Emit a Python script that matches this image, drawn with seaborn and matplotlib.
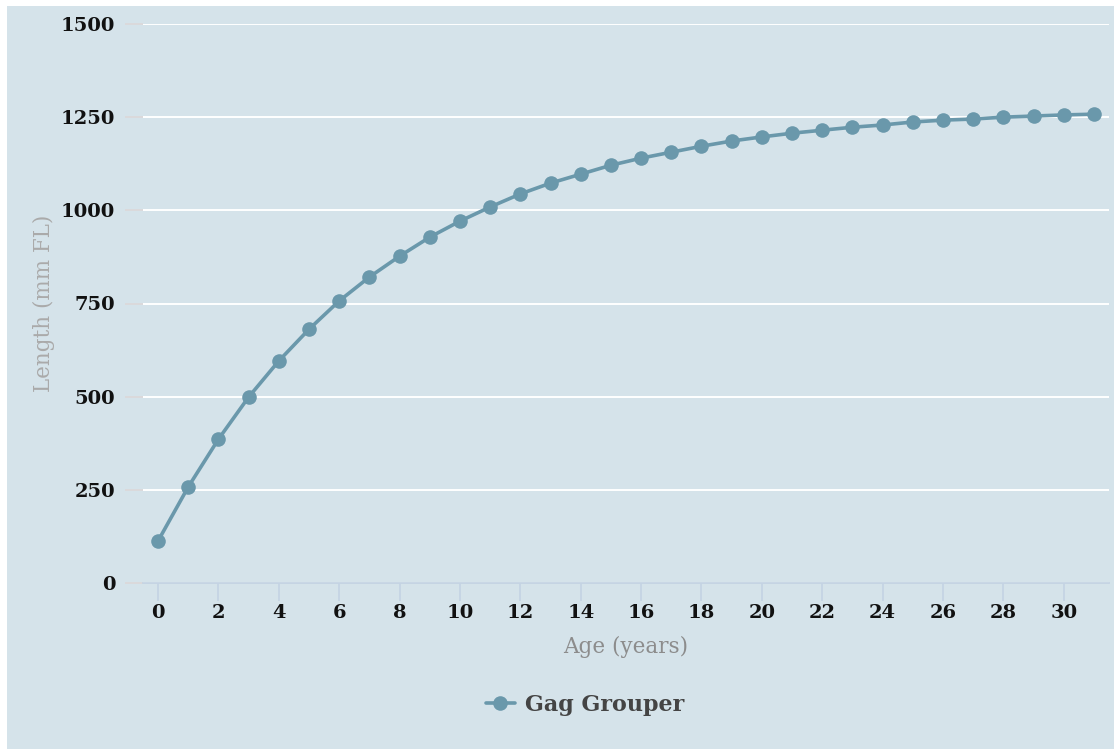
import matplotlib
matplotlib.use("Agg")
import matplotlib.pyplot as plt
from matplotlib.patches import Rectangle
from matplotlib.lines import Line2D
import seaborn as sns
import pandas as pd

ages = list(range(0, 32))
lengths = [113, 258, 386, 499, 596, 681, 757, 821, 877, 928, 971, 1009, 1044, 1073,
           1097, 1121, 1140, 1156, 1172, 1186, 1197, 1207, 1215, 1223, 1229, 1237,
           1242, 1245, 1250, 1253, 1256, 1258]
series_name = "Gag Grouper"
x_ticks = list(range(0, 31, 2))
y_ticks = [0, 250, 500, 750, 1000, 1250, 1500]

df = pd.DataFrame({"Age": ages, "Length": lengths, "Species": series_name})

sns.set_theme(style="white")
plt.rcParams['font.family'] = ['DejaVu Serif', 'DejaVu Sans']

W, H = 1114, 749
fig = plt.figure(figsize=(W / 100, H / 100), dpi=100, facecolor="white")
bg = "#d5e3ea"
fig.patches.append(Rectangle((7 / W, 0), 1 - 7 / W, 1 - 6 / H, transform=fig.transFigure,
                             facecolor=bg, edgecolor="none", zorder=-10))

left, right, top, bottom = 143, 1109, 24, 583
ax = fig.add_axes([left / W, 1 - bottom / H, (right - left) / W, (bottom - top) / H])
ax.set_facecolor("none")

line_color = "#6a98ab"
sns.lineplot(data=df, x="Age", y="Length", ax=ax, color=line_color, linewidth=2.6,
             marker="o", markersize=10.5, markeredgewidth=0, legend=False, zorder=3)

ax.set_xlim(-0.5, 31.5)
ax.set_ylim(0, 1500)
ax.set_xticks(x_ticks)
ax.set_yticks(y_ticks)
ax.set_xticklabels([str(t) for t in x_ticks], fontweight="bold", fontsize=14, color="#111111")
ax.set_yticklabels([str(t) for t in y_ticks], fontweight="bold", fontsize=14, color="#111111")

ax.yaxis.grid(True, color="white", linewidth=1.4)
ax.xaxis.grid(False)
ax.set_axisbelow(True)
for s in ["top", "right", "left"]:
    ax.spines[s].set_visible(False)
ax.spines["bottom"].set_color("#c4d3e3")
ax.spines["bottom"].set_linewidth(1.3)

ax.tick_params(axis="y", length=13, width=1.2, color="#dcd8d8", pad=7, left=True)
ax.tick_params(axis="x", length=13, width=1.2, color="#c4d3e3", pad=2, bottom=True)

ax.set_xlabel("Age (years)", fontsize=15.5, color="#8c8c8c", labelpad=10)
ax.set_ylabel("Length (mm FL)", fontsize=15.5, color="#aaaaaa")
ax.yaxis.set_label_coords((55 - left) / (right - left), 0.5)

handle = Line2D([], [], color=line_color, linewidth=2.6, marker="o", markersize=10.5,
                markeredgewidth=0)
fig.legend([handle], [series_name], loc="center", bbox_to_anchor=(585 / W, 1 - 705 / H),
           frameon=False, prop={"weight": "bold", "size": 16}, labelcolor="#444444",
           handlelength=1.3, handletextpad=0.45)

fig.savefig("out.png", dpi=100, facecolor="white")
